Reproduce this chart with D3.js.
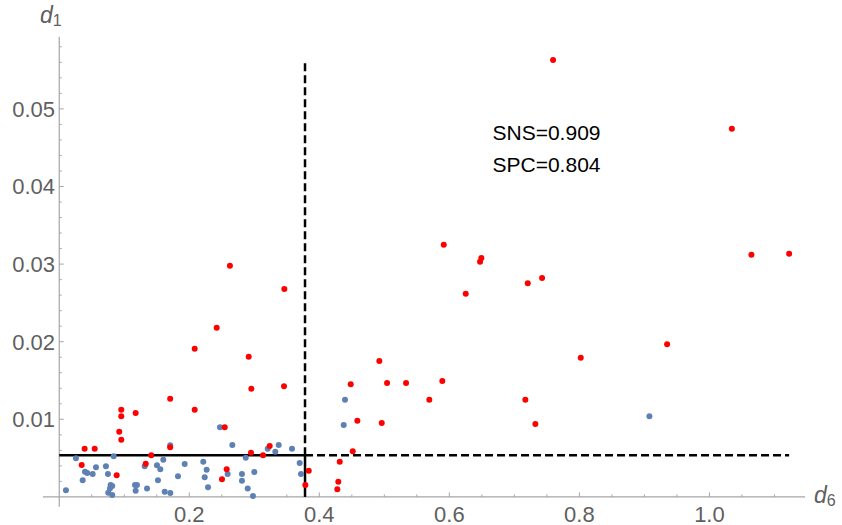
<!DOCTYPE html>
<html>
<head>
<meta charset="utf-8">
<script src="https://cdn.jsdelivr.net/npm/d3@7"></script>
<style>
  html, body { margin: 0; padding: 0; background: #fff; }
  svg { display: block; font-family: "Liberation Sans", Arial, sans-serif; }
</style>
</head>
<body>
<svg id="chart" width="842" height="525"></svg>
<script>
// blue points (d6, d1)
var blueD6 = [0.0103, 0.0257, 0.036, 0.0396, 0.0431, 0.0514, 0.0565, 0.0718, 0.0749, 0.079,
              0.0815, 0.078, 0.0754, 0.0815, 0.0837, 0.1165, 0.1195, 0.1175, 0.135, 0.1314,
              0.1503, 0.1554, 0.16, 0.1518, 0.1622, 0.1708, 0.1826, 0.1929, 0.1706, 0.2472,
              0.2662, 0.3206, 0.3375, 0.358, 0.3323, 0.2868, 0.2215, 0.2267, 0.2237, 0.2288,
              0.259, 0.281, 0.281, 0.300, 0.2898, 0.298, 0.3698, 0.3718, 0.4395, 0.4375, 0.9077];
var blueD1 = [0.00085, 0.00497, 0.00214, 0.00325, 0.00308, 0.00295, 0.00381, 0.00394, 0.00295, 0.00153,
              0.0014, 0.0011, 0.00054, 0.00024, 0.00523, 0.00153, 0.00153, 0.0008, 0.0011, 0.00394,
              0.00407, 0.00356, 0.0048, 0.00214, 0.00067, 0.0005, 0.00265, 0.00424, 0.00665, 0.00897,
              0.00669, 0.00621, 0.00669, 0.00621, 0.00583, 0.00505, 0.00454, 0.0035, 0.00253, 0.00124,
              0.00295, 0.00295, 0.00209, 0.00321, 0.0011, 0.00012, 0.00437, 0.00295, 0.01253, 0.00927, 0.01039];
// red points (d6, d1)
var redD6 = [0.7595, 1.0345, 0.5914, 0.6492, 0.6472, 0.7426, 0.7206, 0.6252, 1.0646, 1.1226,
             0.9349, 0.8021, 0.5334, 0.5892, 0.5692, 0.7169, 0.7323, 0.4923, 0.4483, 0.5042,
             0.4585, 0.496, 0.4514, 0.4314, 0.4292, 0.4277, 0.3837, 0.3785, 0.2625, 0.3462,
             0.2421, 0.2083, 0.2914, 0.2954, 0.3457, 0.2083, 0.2545, 0.3237, 0.2949, 0.3134,
             0.2575, 0.2503, 0.1706, 0.0954, 0.0954, 0.1175, 0.0923, 0.0954, 0.039, 0.0545,
             0.0345, 0.0883, 0.133, 0.1415, 0.1706];
var redD1 = [0.0563, 0.04745, 0.0325, 0.03079, 0.03031, 0.02821, 0.02752, 0.02619, 0.03121, 0.03134,
             0.01966, 0.01794, 0.01468, 0.01494, 0.01253, 0.01253, 0.0094, 0.01751, 0.01451, 0.01468,
             0.00982, 0.00952, 0.00588, 0.00454, 0.00196, 0.00098, 0.00338, 0.00153, 0.02979, 0.02679,
             0.0218, 0.0191, 0.01807, 0.01394, 0.01425, 0.01124, 0.00897, 0.00656, 0.0057, 0.00536,
             0.00356, 0.00227, 0.01266, 0.01124, 0.01039, 0.01081, 0.0084, 0.00737, 0.00621, 0.00621,
             0.00411, 0.00278, 0.00428, 0.00536, 0.0064];

var cutD6 = 0.378, cutD1 = 0.00536;
var xMajor = [0.2, 0.4, 0.6, 0.8, 1.0];
var yMajor = [0.01, 0.02, 0.03, 0.04, 0.05];
var notes = ["SNS=0.909", "SPC=0.804"];

var svg = d3.select("#chart");
var x = d3.scaleLinear().domain([-0.025, 1.147]).range([43, 805]);
var y = d3.scaleLinear().domain([-0.00126, 0.0593]).range([506.7, 36.7]);

var axisCol = "#a6a6a6", labCol = "#5f5f5f";

// axes lines
svg.append("line").attr("x1", x.range()[0]).attr("x2", x.range()[1])
  .attr("y1", y(0)).attr("y2", y(0)).attr("stroke", axisCol).attr("stroke-width", 1.2);
svg.append("line").attr("x1", x(0)).attr("x2", x(0))
  .attr("y1", y.range()[0]).attr("y2", y.range()[1]).attr("stroke", axisCol).attr("stroke-width", 1.2);

// x ticks
var xMinor = d3.range(1, 23).map(function(i){ return i * 0.05; });
svg.selectAll(".xt").data(xMinor).enter().append("line")
  .attr("x1", function(d){ return x(d); }).attr("x2", function(d){ return x(d); })
  .attr("y1", y(0)).attr("y2", function(d){ return y(0) - (xMajor.some(function(m){ return Math.abs(m-d)<1e-9; }) ? 4.5 : 2.5); })
  .attr("stroke", axisCol);
svg.selectAll(".xl").data(xMajor).enter().append("text")
  .attr("x", function(d){ return x(d); }).attr("y", 521.5)
  .attr("text-anchor", "middle").attr("fill", labCol).attr("font-size", 22)
  .text(function(d){ return d3.format(".1f")(d); });

// y ticks
var yMinor = d3.range(1, 30).map(function(i){ return i * 0.002; });
svg.selectAll(".yt").data(yMinor).enter().append("line")
  .attr("y1", function(d){ return y(d); }).attr("y2", function(d){ return y(d); })
  .attr("x1", x(0)).attr("x2", function(d){ return x(0) + (yMajor.some(function(m){ return Math.abs(m-d)<1e-9; }) ? 4.5 : 2.5); })
  .attr("stroke", axisCol);
svg.selectAll(".yl").data(yMajor).enter().append("text")
  .attr("x", 55).attr("y", function(d){ return y(d) + 8; })
  .attr("text-anchor", "end").attr("fill", labCol).attr("font-size", 22)
  .text(function(d){ return d3.format(".2f")(d); });

// axis labels
function axisLabel(px, py, sub){
  var t = svg.append("text").attr("x", px).attr("y", py).attr("fill", labCol);
  t.append("tspan").attr("font-style", "italic").attr("font-size", 23).text("d");
  t.append("tspan").attr("font-size", 16).attr("dy", 3).text(sub);
}
axisLabel(40, 23, "1");
axisLabel(814, 503, "6");

// threshold lines
var maxD6 = d3.max(redD6.concat(blueD6)), maxD1 = d3.max(redD1.concat(blueD1));
var lineG = svg.append("g").attr("stroke", "#000").attr("stroke-width", 2.5).attr("fill", "none");
lineG.append("line").attr("x1", x(0)).attr("x2", x(cutD6)).attr("y1", y(cutD1)).attr("y2", y(cutD1));
lineG.append("line").attr("x1", x(cutD6)).attr("x2", x(cutD6)).attr("y1", y(0)).attr("y2", y(cutD1));
lineG.append("line").attr("x1", x(cutD6)).attr("x2", x(maxD6)).attr("y1", y(cutD1)).attr("y2", y(cutD1))
  .attr("stroke-dasharray", "8,4");
lineG.append("line").attr("x1", x(cutD6)).attr("x2", x(cutD6)).attr("y1", y(cutD1)).attr("y2", y(maxD1))
  .attr("stroke-dasharray", "8,4");

// points
svg.append("g").selectAll("circle").data(d3.zip(blueD6, blueD1)).enter().append("circle")
  .attr("cx", function(d){ return x(d[0]); }).attr("cy", function(d){ return y(d[1]); })
  .attr("r", 3).attr("fill", "#5e81b5");
svg.append("g").selectAll("circle").data(d3.zip(redD6, redD1)).enter().append("circle")
  .attr("cx", function(d){ return x(d[0]); }).attr("cy", function(d){ return y(d[1]); })
  .attr("r", 3).attr("fill", "#ff0000");

// annotation
svg.selectAll(".note").data(notes).enter().append("text")
  .attr("x", 492.5).attr("y", function(d, i){ return 140 + i * 31.5; })
  .attr("font-size", 21).attr("fill", "#000")
  .text(function(d){ return d; });
</script>
</body>
</html>
